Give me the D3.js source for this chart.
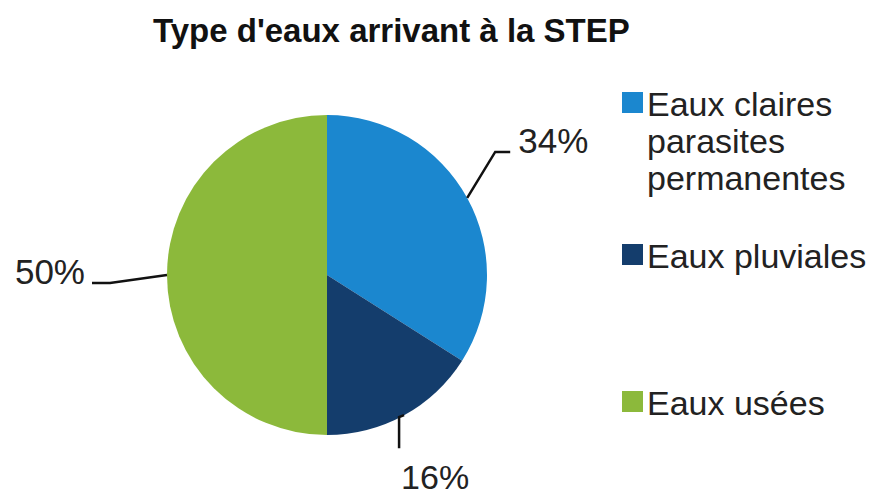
<!DOCTYPE html>
<html>
<head>
<meta charset="utf-8">
<script src="https://cdn.jsdelivr.net/npm/d3@7"></script>
<style>
    body { margin: 0; background: #fff; }
    svg { display: block; font-family: "Liberation Sans", Arial, sans-serif; }
</style>
</head>
<body>
<div id="chart"></div>
<script>
// data
const categories = ["Eaux claires parasites permanentes", "Eaux pluviales", "Eaux usées"]
const legendLines = [["Eaux claires", "parasites", "permanentes"], ["Eaux pluviales"], ["Eaux usées"]]
const values = [34, 16, 50]
const colors = ["#1b87cf", "#143d6c", "#8cb93b"]
const title = "Type d'eaux arrivant à la STEP"

// dimensions
let dimensions = {
    width: 875,
    height: 496,
    cx: 327,
    cy: 275,
    radius: 160,
}

const svg = d3.select("#chart")
    .append("svg")
    .attr("width", dimensions.width)
    .attr("height", dimensions.height)

// title
svg.append("text")
    .attr("x", 153)
    .attr("y", 42)
    .attr("font-size", 33)
    .attr("font-weight", "bold")
    .attr("fill", "#111")
    .text(title)

// pie
const pie = d3.pie().sort(null).value(d => d)
const arcs = pie(values)
const arc = d3.arc().innerRadius(0).outerRadius(dimensions.radius)
const edgeArc = d3.arc().innerRadius(dimensions.radius).outerRadius(dimensions.radius)

const bounds = svg.append("g")
    .attr("transform", "translate(" + dimensions.cx + "," + dimensions.cy + ")")

bounds.selectAll("path.slice")
    .data(arcs)
    .join("path")
    .attr("class", "slice")
    .attr("d", arc)
    .attr("fill", (d, i) => colors[i])

// leader lines + labels (offsets from the slice edge point)
const leaders = [
    {bend: [28, -46], end: [43, -46], label: [51, -45], anchor: "start", size: 35},
    {bend: [-5, 2], end: [-5, 33], label: [-3, 74], anchor: "start", size: 34},
    {bend: [-57, 8], end: [-75, 8], label: [-82, 9], anchor: "end", size: 35},
]

arcs.forEach((d, i) => {
    const p = edgeArc.centroid(d)
    const l = leaders[i]
    const pts = [p, [p[0] + l.bend[0], p[1] + l.bend[1]], [p[0] + l.end[0], p[1] + l.end[1]]]
    bounds.append("path")
        .attr("d", d3.line()(pts))
        .attr("fill", "none")
        .attr("stroke", "#111")
        .attr("stroke-width", 2.5)
    bounds.append("text")
        .attr("x", p[0] + l.label[0])
        .attr("y", p[1] + l.label[1])
        .attr("text-anchor", l.anchor)
        .attr("font-size", l.size)
        .attr("fill", "#222")
        .text(values[i] + "%")
})

// legend
const legendY = [102, 254, 401]
const legend = svg.append("g")
legendLines.forEach((lines, i) => {
    legend.append("rect")
        .attr("x", 622)
        .attr("y", legendY[i] - 10)
        .attr("width", 21)
        .attr("height", 21)
        .attr("fill", colors[i])
    const t = legend.append("text")
        .attr("x", 647)
        .attr("y", legendY[i] + 14)
        .attr("font-size", 34)
        .attr("fill", "#222")
    lines.forEach((line, j) => {
        t.append("tspan")
            .attr("x", 647)
            .attr("dy", j === 0 ? 0 : 37)
            .text(line)
    })
})
</script>
</body>
</html>
